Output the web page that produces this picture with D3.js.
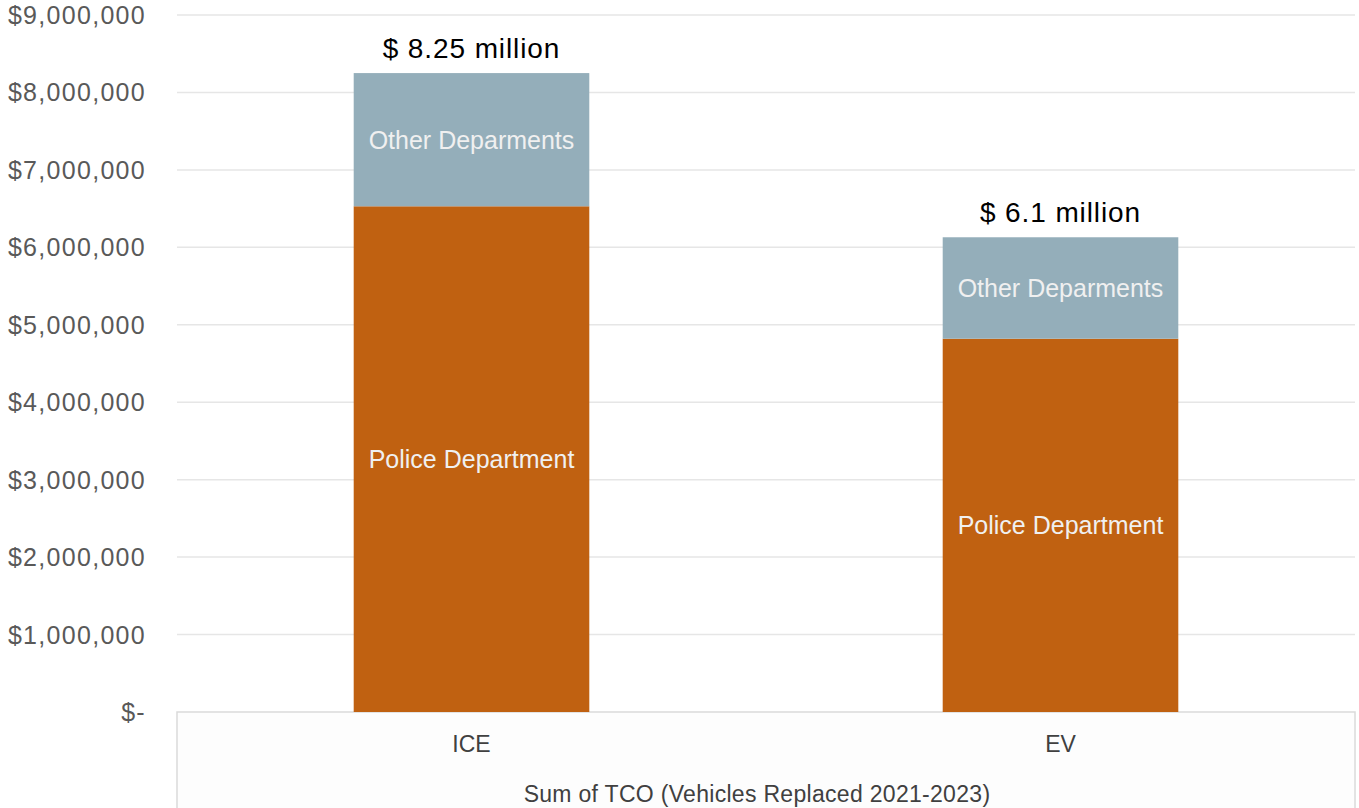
<!DOCTYPE html>
<html>
<head>
<meta charset="utf-8">
<script src="https://cdn.jsdelivr.net/npm/d3@7"></script>
<style>
  html, body { margin: 0; padding: 0; background: #ffffff; }
  svg { display: block; }
</style>
</head>
<body>
<svg id="chart" width="1359" height="808"></svg>
<script>
// ---- data ----
const categories = ["ICE", "EV"];
const policeValues = [6530000, 4820000];
const otherValues = [1720000, 1310000];
const totalLabels = ["$ 8.25 million", "$ 6.1 million"];
const seriesNames = ["Police Department", "Other Deparments"];
const yTicks = [0, 1000000, 2000000, 3000000, 4000000, 5000000, 6000000, 7000000, 8000000, 9000000];
const axisTitle = "Sum of TCO (Vehicles Replaced 2021-2023)";

// ---- layout ----
const W = 1359, H = 808;
const plot = { left: 177, right: 1355, top: 15, bottom: 712 };
const colors = { police: "#C06111", other: "#94AEBA" };
const font = "'Liberation Sans', Arial, sans-serif";

const svg = d3.select("#chart");

const y = d3.scaleLinear().domain([0, 9000000]).range([plot.bottom, plot.top]);
const x = d3.scaleBand().domain(categories).range([plot.left, plot.right])
  .paddingInner(0.6).paddingOuter(0.3);

// gridlines
svg.append("g").selectAll("line").data(yTicks.filter(d => d > 0)).join("line")
  .attr("x1", plot.left).attr("x2", plot.right)
  .attr("y1", d => y(d)).attr("y2", d => y(d))
  .attr("stroke", "#e6e6e6").attr("stroke-width", 1.5);

// category box (below axis)
svg.append("rect")
  .attr("x", plot.left).attr("y", plot.bottom)
  .attr("width", plot.right - plot.left).attr("height", H - plot.bottom + 10)
  .attr("fill", "#fdfdfd").attr("stroke", "#dadada").attr("stroke-width", 1.5);

// y tick labels
const fmt = d => d === 0 ? "$-" : "$" + d3.format(",")(d);
svg.append("g").selectAll("text").data(yTicks).join("text")
  .attr("x", 146).attr("y", d => y(d)).attr("dy", "0.36em")
  .attr("text-anchor", "end")
  .style("font-family", font).style("font-size", "25px").style("letter-spacing", "1.3px")
  .attr("fill", "#595959")
  .text(fmt);

// stacked data
const rows = categories.map((c, i) => ({ cat: c, police: policeValues[i], other: otherValues[i] }));
const stack = d3.stack().keys(["police", "other"])(rows);
const keyName = { police: seriesNames[0], other: seriesNames[1] };

const layers = svg.append("g").selectAll("g").data(stack).join("g")
  .attr("fill", d => colors[d.key]);

layers.selectAll("rect").data(d => d).join("rect")
  .attr("x", d => x(d.data.cat))
  .attr("width", x.bandwidth())
  .attr("y", d => y(d[1]))
  .attr("height", d => y(d[0]) - y(d[1]));

// segment labels
stack.forEach(layer => {
  svg.append("g").selectAll("text").data(layer).join("text")
    .attr("x", d => x(d.data.cat) + x.bandwidth() / 2)
    .attr("y", d => (y(d[0]) + y(d[1])) / 2)
    .attr("dy", "0.36em")
    .attr("text-anchor", "middle")
    .style("font-family", font).style("font-size", "25px")
    .attr("fill", "#f0f0f0")
    .text(keyName[layer.key]);
});

// total labels
svg.append("g").selectAll("text").data(rows).join("text")
  .attr("x", d => x(d.cat) + x.bandwidth() / 2)
  .attr("y", d => y(d.police + d.other) - 15)
  .attr("text-anchor", "middle")
  .style("font-family", font).style("font-size", "28px").style("letter-spacing", "0.9px")
  .attr("fill", "#000000")
  .text((d, i) => totalLabels[i]);

// category labels
svg.append("g").selectAll("text").data(categories).join("text")
  .attr("x", d => x(d) + x.bandwidth() / 2)
  .attr("y", 744).attr("dy", "0.36em")
  .attr("text-anchor", "middle")
  .style("font-family", font).style("font-size", "23px")
  .attr("fill", "#404040")
  .text(d => d);

// axis title
svg.append("text")
  .attr("x", 757).attr("y", 802)
  .attr("text-anchor", "middle")
  .style("font-family", font).style("font-size", "23px").style("letter-spacing", "0.3px")
  .attr("fill", "#404040")
  .text(axisTitle);
</script>
</body>
</html>
